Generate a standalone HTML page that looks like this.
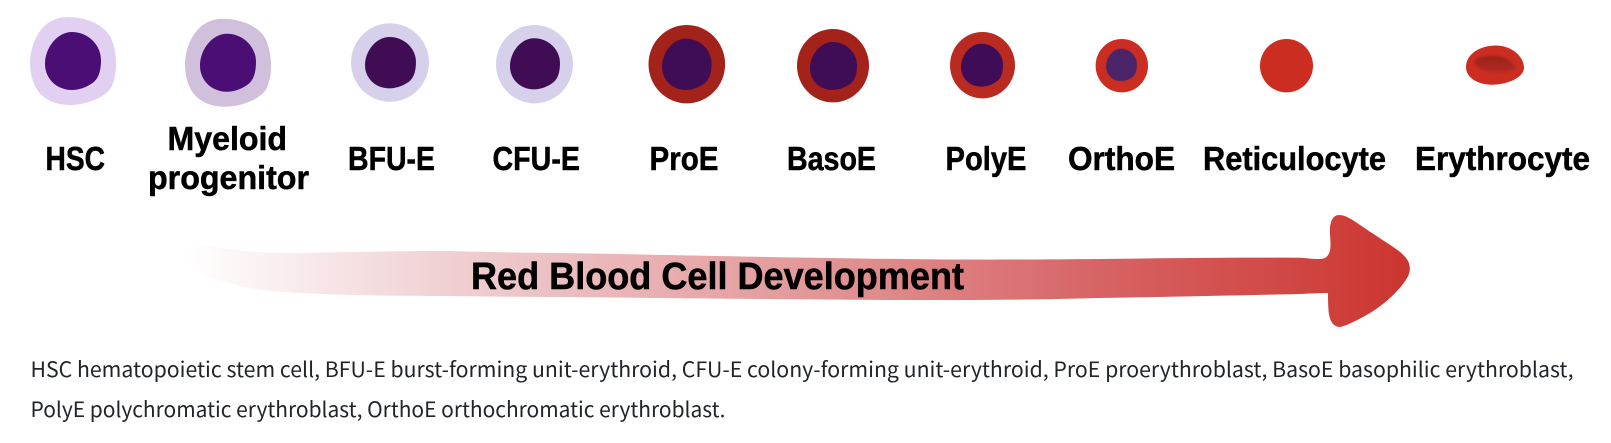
<!DOCTYPE html>
<html><head><meta charset="utf-8"><style>
html,body{margin:0;padding:0;background:#fff;width:1611px;height:443px;overflow:hidden}
svg{display:block}
.l{font-family:"Liberation Sans",sans-serif;font-weight:bold;font-size:33px;fill:#000;stroke:#000;stroke-width:.5px}
.c{font-family:"Noto Sans CJK JP","Liberation Sans",sans-serif;font-size:21px;fill:#212529}
</style></head><body>
<svg width="1611" height="443" viewBox="0 0 1611 443" xmlns="http://www.w3.org/2000/svg">
<defs>
<linearGradient id="g" gradientUnits="userSpaceOnUse" x1="187" y1="0" x2="1400" y2="0">
<stop offset="0" stop-color="#fff"/><stop offset=".2" stop-color="#f1d3d5"/><stop offset=".5" stop-color="#e39a9b"/><stop offset=".75" stop-color="#d76465"/><stop offset="1" stop-color="#cc3630"/>
</linearGradient>
<linearGradient id="e" x1="0" y1="0" x2="0" y2="1"><stop offset="0" stop-color="#98231d"/><stop offset="1" stop-color="#b92a22"/></linearGradient>
<filter id="b" x="-20%" y="-30%" width="140%" height="160%"><feGaussianBlur stdDeviation="1"/></filter>
</defs>
<path fill="#e2d0f2" d="M68 17C85 17 104 24 111 38C117 52 118 72 112 86C106 98 85 105 70 105C50 105 36 95 32 78C28 63 30 48 38 34C45 23 55 17 68 17Z"/>
<path fill="#4a0e74" d="M72 32C88 32 101 45 101 60C101 72 98 80 91 84C85 88 78 90 72 90C56 90 45 78 45 64C45 48 57 32 72 32Z"/>
<g transform="translate(155 1.700)"><path fill="#d0c0dc" d="M68 17C85 17 104 24 111 38C117 52 118 72 112 86C106 98 85 105 70 105C50 105 36 95 32 78C28 63 30 48 38 34C45 23 55 17 68 17Z"/>
<path fill="#4a0e74" d="M72 32C88 32 101 45 101 60C101 72 98 80 91 84C85 88 78 90 72 90C56 90 45 78 45 64C45 48 57 32 72 32Z"/></g>
<ellipse cx="390" cy="62.500" rx="39" ry="39.200" fill="#d6d0ea"/>
<path fill="#400d55" transform="translate(390.500 62.700) scale(.91 .885) translate(-73 -61)" d="M72 32C88 32 101 45 101 60C101 72 98 80 91 84C85 88 78 90 72 90C56 90 45 78 45 64C45 48 57 32 72 32Z"/>
<ellipse cx="534.500" cy="64.200" rx="38.500" ry="39.200" fill="#d6d0ea"/>
<path fill="#400d55" transform="translate(535 63.800) scale(.893 .88) translate(-73 -61)" d="M72 32C88 32 101 45 101 60C101 72 98 80 91 84C85 88 78 90 72 90C56 90 45 78 45 64C45 48 57 32 72 32Z"/>
<ellipse cx="686.800" cy="64.200" rx="38.300" ry="39.200" fill="#a3221a"/>
<path fill="#3f0d55" transform="translate(686.800 64.300) scale(.884 .885) translate(-73 -61)" d="M72 32C88 32 101 45 101 60C101 72 98 80 91 84C85 88 78 90 72 90C56 90 45 78 45 64C45 48 57 32 72 32Z"/>
<ellipse cx="833" cy="65.700" rx="36" ry="36.700" fill="#a3221a"/>
<path fill="#3f0d55" transform="translate(833.500 66) scale(.84 .828) translate(-73 -61)" d="M72 32C88 32 101 45 101 60C101 72 98 80 91 84C85 88 78 90 72 90C56 90 45 78 45 64C45 48 57 32 72 32Z"/>
<ellipse cx="982.500" cy="65.200" rx="32.500" ry="33.200" fill="#b92b20"/>
<path fill="#3f0d58" transform="translate(982 65.200) scale(.75 .741) translate(-73 -61)" d="M72 32C88 32 101 45 101 60C101 72 98 80 91 84C85 88 78 90 72 90C56 90 45 78 45 64C45 48 57 32 72 32Z"/>
<ellipse cx="1121.800" cy="65.700" rx="26.200" ry="26.700" fill="#cb2d20"/>
<path fill="#4b2468" stroke="#7a2a50" stroke-width="1" transform="translate(1121.500 64.900) scale(.55 .557) translate(-73 -61)" d="M72 32C88 32 101 45 101 60C101 72 98 80 91 84C85 88 78 90 72 90C56 90 45 78 45 64C45 48 57 32 72 32Z"/>
<ellipse cx="1286.500" cy="65.700" rx="26.500" ry="26.700" fill="#cb2d20"/>
<path fill="#cb2d20" d="M1466 67C1466 54 1480 45.500 1496 45.500C1511 45.500 1524 56 1524 68C1524 77 1508 84.700 1492 84.700C1478 84.700 1466 78 1466 67Z"/>
<path fill="url(#e)" filter="url(#b)" d="M1474 62C1476 57 1484 56 1494 56C1504 56 1511 60 1516 67C1514 71 1506 73 1496 73C1486 72 1476 68 1474 62Z"/>
<path fill="url(#g)" d="M187 244C205 246 225 248 243 251C265 253 282 253 300 253C350 252 400 251 447 251C490 252 525 253 560 253C680 255 800 258 900 259C970 260 1040 259.500 1100 259C1170 258 1240 257.500 1300 257.700C1306 258 1312 259 1320 259C1327 259 1330.500 254 1330.500 245C1330.500 238 1329.500 232 1330 227C1331 219 1334 215 1339 215C1348 215 1358 224 1372 233C1385 242 1400 250 1406 258C1411 264 1411 272 1407 278C1400 290 1385 304 1370 313C1358 320 1346 326 1340 327C1333 327 1329 320 1328.500 310C1328 304 1328 299 1328 293C1320 293 1310 293.500 1300 294C1230 295.500 1165 297 1100 298C1030 300 960 300 900 300C780 299.500 670 298 560 297C520 297 480 296.500 447 296C390 296 340 295 300 293C285 292 270 291 260 290C235 285 215 280 200 273C192 270 188 266 187 263Z"/>
<text class="l" x="45.500" y="170" textLength="59.500" lengthAdjust="spacingAndGlyphs">HSC</text>
<text class="l" x="167.500" y="150" textLength="119.500" lengthAdjust="spacingAndGlyphs">Myeloid</text>
<text class="l" x="148" y="189" textLength="161" lengthAdjust="spacingAndGlyphs">progenitor</text>
<text class="l" x="348" y="170" textLength="87" lengthAdjust="spacingAndGlyphs">BFU-E</text>
<text class="l" x="492.500" y="170" textLength="87.500" lengthAdjust="spacingAndGlyphs">CFU-E</text>
<text class="l" x="649.500" y="170" textLength="69" lengthAdjust="spacingAndGlyphs">ProE</text>
<text class="l" x="787" y="170" textLength="89" lengthAdjust="spacingAndGlyphs">BasoE</text>
<text class="l" x="945.500" y="170" textLength="81" lengthAdjust="spacingAndGlyphs">PolyE</text>
<text class="l" x="1068" y="170" textLength="107" lengthAdjust="spacingAndGlyphs">OrthoE</text>
<text class="l" x="1203" y="170" textLength="183" lengthAdjust="spacingAndGlyphs">Reticulocyte</text>
<text class="l" x="1415" y="170" textLength="175" lengthAdjust="spacingAndGlyphs">Erythrocyte</text>
<text x="471" y="289" font-family="Liberation Sans,sans-serif" font-weight="bold" font-size="38" fill="#000" stroke="#000" stroke-width=".5" textLength="493" lengthAdjust="spacingAndGlyphs">Red Blood Cell Development</text>
<text class="c" x="30.500" y="377" textLength="1543" lengthAdjust="spacingAndGlyphs">HSC hematopoietic stem cell, BFU-E burst-forming unit-erythroid, CFU-E colony-forming unit-erythroid, ProE proerythroblast, BasoE basophilic erythroblast,</text>
<text class="c" x="30.500" y="417" textLength="695" lengthAdjust="spacingAndGlyphs">PolyE polychromatic erythroblast, OrthoE orthochromatic erythroblast.</text>
</svg>
</body></html>
